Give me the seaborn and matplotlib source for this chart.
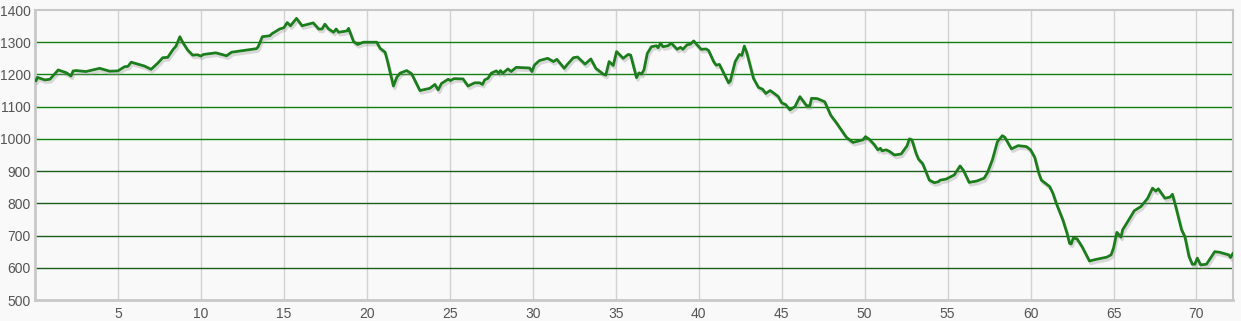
import matplotlib
matplotlib.use("Agg")
import matplotlib.pyplot as plt
import matplotlib.patheffects as pe
import seaborn as sns
import pandas as pd

km = [0.06, 0.14, 0.3, 0.6, 0.9, 1.4, 1.9, 2.17, 2.3, 2.5, 3.07, 3.9, 4.5, 5.0, 5.4, 5.6, 5.8,
      6.6, 7.0, 7.4, 7.7, 8.0, 8.3, 8.5, 8.73, 8.9, 9.2, 9.5, 9.8, 10.0, 10.15, 10.9, 11.55,
      11.85, 13.35, 13.45, 13.7, 14.15, 14.3, 14.75, 15.0, 15.2, 15.4, 15.76, 16.1, 16.77,
      17.1, 17.3, 17.47, 17.7, 18.0, 18.15, 18.3, 18.8, 18.9, 19.2, 19.45, 19.8, 20.6, 20.8,
      21.1, 21.25, 21.6, 21.8, 22.0, 22.4, 22.7, 23.2, 23.8, 24.1, 24.3, 24.5, 24.9, 25.05,
      25.25, 25.8, 26.1, 26.5, 26.8, 26.97, 27.1, 27.3, 27.5, 27.8, 27.95, 28.05, 28.2, 28.5,
      28.7, 29.0, 29.8, 29.95, 30.1, 30.4, 30.9, 31.25, 31.45, 31.9, 32.1, 32.45, 32.7, 33.15,
      33.5, 33.8, 34.25, 34.4, 34.6, 34.85, 35.05, 35.45, 35.75, 35.9, 36.25, 36.4, 36.55,
      36.7, 36.9, 37.15, 37.45, 37.55, 37.7, 37.85, 38.15, 38.35, 38.7, 38.9, 39.05, 39.3,
      39.5, 39.7, 39.9, 40.15, 40.45, 40.6, 40.9, 41.05, 41.25, 41.8, 41.9, 42.2, 42.45, 42.6,
      42.75, 42.9, 43.3, 43.6, 43.85, 44.05, 44.3, 44.5, 44.8, 45.0, 45.25, 45.5, 45.8, 46.1,
      46.5, 46.7, 46.8, 47.15, 47.6, 47.95, 48.3, 48.9, 49.3, 49.9, 50.05, 50.3, 50.6, 50.8,
      50.95, 51.05, 51.3, 51.5, 51.8, 52.2, 52.55, 52.7, 52.85, 53.1, 53.25, 53.5, 53.9, 54.2,
      54.45, 54.55, 54.9, 55.4, 55.75, 55.95, 56.3, 56.75, 57.2, 57.4, 57.7, 58.0, 58.3, 58.45,
      58.85, 59.25, 59.75, 60.0, 60.25, 60.5, 60.65, 61.15, 61.35, 61.55, 61.95, 62.2, 62.35,
      62.45, 62.57, 62.8, 63.1, 63.55, 63.95, 64.6, 64.85, 65.0, 65.2, 65.45, 65.55, 65.9,
      66.25, 66.65, 67.05, 67.35, 67.55, 67.7, 68.1, 68.4, 68.55, 68.75, 69.1, 69.3, 69.55,
      69.75, 69.9, 70.05, 70.25, 70.6, 71.1, 71.4, 71.95, 72.05, 72.2]

elevation = [1180, 1191, 1188, 1183, 1185, 1214, 1205, 1195, 1211, 1212, 1209, 1219, 1210, 1211,
             1224, 1225, 1238, 1226, 1216, 1235, 1252, 1253, 1276, 1288, 1317, 1300, 1276, 1260,
             1261, 1257, 1262, 1267, 1258, 1269, 1280, 1286, 1317, 1320, 1327, 1341, 1345, 1361,
             1351, 1374, 1351, 1360, 1341, 1341, 1356, 1341, 1331, 1341, 1331, 1335, 1343, 1302,
             1293, 1300, 1300, 1281, 1269, 1240, 1164, 1191, 1204, 1212, 1202, 1150, 1157, 1169,
             1152, 1172, 1185, 1181, 1187, 1186, 1164, 1174, 1174, 1169, 1183, 1188, 1204, 1211,
             1204, 1212, 1204, 1217, 1209, 1222, 1220, 1209, 1229, 1243, 1250, 1240, 1247, 1219,
             1232, 1252, 1254, 1232, 1248, 1219, 1201, 1198, 1240, 1228, 1271, 1250, 1262, 1260,
             1190, 1205, 1201, 1214, 1265, 1286, 1289, 1283, 1297, 1286, 1289, 1297, 1278, 1284,
             1278, 1292, 1294, 1304, 1292, 1278, 1279, 1274, 1240, 1229, 1231, 1174, 1179, 1240,
             1262, 1259, 1288, 1267, 1188, 1160, 1154, 1141, 1150, 1143, 1131, 1112, 1106, 1090,
             1100, 1131, 1103, 1103, 1126, 1125, 1115, 1074, 1050, 1005, 989, 997, 1007, 998, 981,
             966, 971, 963, 966, 961, 950, 953, 978, 1000, 997, 955, 937, 923, 872, 864, 867, 872,
             875, 888, 916, 903, 865, 869, 878, 895, 935, 991, 1010, 1005, 969, 979, 976, 966, 943,
             893, 872, 852, 831, 800, 748, 707, 676, 674, 692, 690, 666, 621, 626, 633, 640, 661,
             710, 695, 718, 747, 777, 790, 815, 847, 838, 845, 816, 819, 828, 790, 718, 697, 635,
             611, 611, 630, 609, 611, 650, 648, 640, 632, 645]

x_ticks = [5, 10, 15, 20, 25, 30, 35, 40, 45, 50, 55, 60, 65, 70]
y_ticks = [500, 600, 700, 800, 900, 1000, 1100, 1200, 1300, 1400]

df = pd.DataFrame({"km": km, "elevation": elevation})

sns.set_style("white")
plt.rcParams["font.family"] = ["Liberation Sans", "DejaVu Sans"]

bg = "#f9f9f9"
fig = plt.figure(figsize=(12.41, 3.21), dpi=100, facecolor=bg)
ax = fig.add_axes([35 / 1241, 1 - 300 / 321, (1233 - 35) / 1241, 290 / 321])
ax.set_facecolor(bg)

ax.set_xlim(0, 72.2)
ax.set_ylim(500, 1400)

for xv in x_ticks:
    ax.axvline(xv, color="#d2d2d2", lw=1.0, zorder=1)
for yv in y_ticks[1:-1]:
    ax.axhline(yv, color="#118011" if yv >= 1000 else "#1d5e1d", lw=1.0, zorder=1)

sns.lineplot(data=df, x="km", y="elevation", ax=ax, color="#1c7d1c", lw=2.0, zorder=3,
             path_effects=[pe.SimpleLineShadow(offset=(1, -2), shadow_color="#999999", alpha=0.35),
                           pe.Normal()])

ax.set_xticks(x_ticks)
ax.set_yticks(y_ticks)
ax.set_xticklabels([str(v) for v in x_ticks])
ax.set_yticklabels([str(v) for v in y_ticks])
ax.tick_params(axis="both", length=0, labelsize=10, labelcolor="#555555")
ax.tick_params(axis="y", pad=3)
ax.tick_params(axis="x", pad=5)
ax.set_xlabel("")
ax.set_ylabel("")

for s in ax.spines.values():
    s.set_visible(True)
    s.set_color("#c8c8c8")
    s.set_linewidth(1.5)
ax.spines["left"].set_linewidth(2)
ax.spines["bottom"].set_linewidth(2)

fig.savefig("out.png", dpi=100, facecolor=bg)
